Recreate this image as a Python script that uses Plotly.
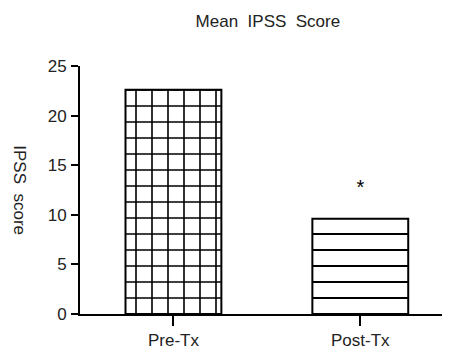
import plotly.graph_objects as go

categories = ["Pre-Tx", "Post-Tx"]
values = [22.6, 9.6]
patterns = ["+", "-"]
y_ticks = [0, 5, 10, 15, 20, 25]
star_value = 12.6

font = dict(family="Liberation Sans, Arial, sans-serif", size=17, color="#222")

fig = go.Figure()
fig.add_trace(go.Bar(
    x=[0, 1], y=values, width=0.513,
    marker=dict(color="white", line=dict(color="black", width=2),
                pattern=dict(shape=patterns, size=16, solidity=[0.19, 0.125],
                             fgcolor="black", fgopacity=1, bgcolor="white")),
    showlegend=False,
))
fig.add_trace(go.Scatter(x=[1], y=[star_value], mode="text", text=["*"],
                         textfont=dict(family="Liberation Sans, Arial", size=20, color="black"),
                         showlegend=False))

fig.update_layout(
    width=442, height=342,
    margin=dict(l=72, r=0, t=58, b=34),
    paper_bgcolor="white", plot_bgcolor="white",
    font=font,
    title=dict(text="Mean  IPSS  Score", x=0.588, xanchor="center", y=0.963, yanchor="middle",
               font=dict(size=17, color="#222")),
    xaxis=dict(range=[-0.5, 1.48], tickvals=[0, 1], ticktext=categories,
               showline=True, linecolor="black", linewidth=2,
               ticks="outside", ticklen=10, tickwidth=2, tickcolor="black",
               showgrid=False, zeroline=False, fixedrange=True, ticklabelstandoff=0),
    yaxis=dict(range=[0, 25], tickvals=y_ticks,
               showline=True, linecolor="black", linewidth=2,
               ticks="outside", ticklen=7, tickwidth=2, tickcolor="black",
               showgrid=False, zeroline=False, ticklabelstandoff=1),
    annotations=[dict(text="IPSS  score", textangle=90, xref="paper", yref="paper",
                      x=-0.163, y=0.5, xanchor="center", yanchor="middle",
                      showarrow=False, font=dict(size=17, color="#222"))],
)
fig.write_html("out.html")
